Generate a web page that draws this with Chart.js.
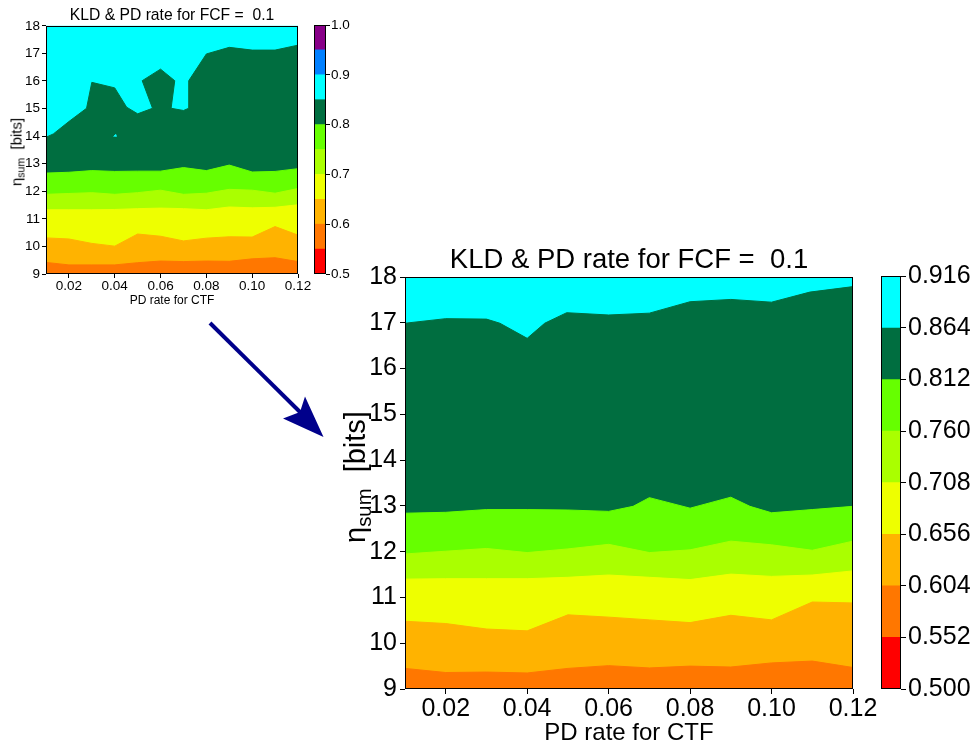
<!DOCTYPE html>
<html>
<head>
<meta charset="utf-8">
<script src="https://cdn.jsdelivr.net/npm/chart.js"></script>
<style>
  html, body { margin: 0; padding: 0; background: #fff; }
  body { width: 972px; height: 748px; position: relative; overflow: hidden;
         font-family: "Liberation Sans", Arial, sans-serif; }
  canvas { position: absolute; }
  .ylab { position: absolute; white-space: nowrap; color: #000; line-height: 1;
          transform: translate(-50%, -50%) rotate(-90deg); }
  .ylab sub { font-size: 70%; vertical-align: baseline; position: relative; top: 0.3em; }
  svg { position: absolute; left: 0; top: 0; }
</style>
</head>
<body>
<canvas id="small" width="344" height="310" style="left:0px;top:0px"></canvas>
<canvas id="smallBar" width="60" height="310" style="left:300px;top:0px"></canvas>
<canvas id="big" width="598" height="508" style="left:330px;top:240px"></canvas>
<canvas id="bigBar" width="102" height="508" style="left:870px;top:240px"></canvas>
<div class="ylab" style="left:16px;top:152px;font-size:15px">η<sub>sum</sub>&nbsp; [bits]</div>
<div class="ylab" style="left:355px;top:477px;font-size:29px">η<sub>sum</sub>&nbsp; [bits]</div>
<svg width="972" height="748">
  <line x1="210" y1="323" x2="301" y2="413" stroke="#00008b" stroke-width="4"/>
  <polygon points="323.5,437 283,418.5 300,412 305,396.5" fill="#00008b"/>
</svg>

<script>
// ---- axes ----
const xMin = 0.01, xMax = 0.12, yMin = 9, yMax = 18;
const xTicks = [0.02, 0.04, 0.06, 0.08, 0.10, 0.12];
const yTicks = [9, 10, 11, 12, 13, 14, 15, 16, 17, 18];

// ---- colours of the contour levels (low -> high) ----
const cRed = '#ff0000', cOrange = '#ff7700', cAmber = '#ffb300', cYellow = '#eeff00',
      cYellowGreen = '#aaff00', cGreen = '#66ff00', cDarkGreen = '#006e40',
      cCyan = '#00ffff', cBlue = '#0080ff', cPurple = '#880088';

// ---- small plot: level curves [x, eta] ----
const small060 = [[0.01,9.42],[0.02,9.33],[0.03,9.33],[0.04,9.33],[0.05,9.41],[0.06,9.47],
  [0.07,9.45],[0.08,9.47],[0.09,9.46],[0.10,9.55],[0.11,9.59],[0.12,9.45]];
const small065 = [[0.01,10.31],[0.02,10.27],[0.03,10.11],[0.04,10.01],[0.05,10.45],[0.06,10.37],
  [0.07,10.20],[0.08,10.30],[0.09,10.35],[0.10,10.34],[0.11,10.72],[0.12,10.41]];
const small070 = [[0.01,11.33],[0.02,11.33],[0.03,11.33],[0.04,11.34],[0.05,11.37],[0.06,11.39],
  [0.07,11.37],[0.08,11.33],[0.09,11.43],[0.10,11.40],[0.11,11.42],[0.12,11.51]];
const small075 = [[0.01,11.89],[0.02,11.92],[0.03,11.95],[0.04,11.89],[0.05,11.95],[0.06,12.04],
  [0.07,11.89],[0.08,11.93],[0.09,12.07],[0.10,12.04],[0.11,11.93],[0.12,12.10]];
const small080 = [[0.01,12.66],[0.02,12.69],[0.03,12.75],[0.04,12.72],[0.05,12.73],[0.06,12.73],
  [0.07,12.86],[0.08,12.75],[0.09,12.95],[0.10,12.70],[0.11,12.72],[0.12,12.82]];
const small085 = [[0.01,13.96],[0.0132,14.08],[0.02,14.53],[0.0277,15.01],[0.03,15.95],[0.04,15.75],
  [0.0452,15.05],[0.05,14.81],[0.0565,15.01],[0.052,16.01],[0.06,16.43],[0.0662,16.01],
  [0.0646,15.01],[0.07,14.93],[0.0723,15.01],[0.0723,16.01],[0.08,16.98],[0.09,17.22],
  [0.10,17.12],[0.11,17.12],[0.12,17.30]];
const smallSpeck = [[0.0395,13.99],[0.0405,14.06],[0.0407,13.98]];
const smallLevels = [0.5, 0.55, 0.6, 0.65, 0.7, 0.75, 0.8, 0.85, 0.9, 0.95, 1.0];
const smallLevelColors = [cRed, cOrange, cAmber, cYellow, cYellowGreen, cGreen, cDarkGreen, cCyan, cBlue, cPurple];
const smallBarTicks = [0.5, 0.6, 0.7, 0.8, 0.9, 1.0];

// ---- big plot: level curves [x, eta] ----
const big0604 = [[0.01,9.45],[0.02,9.36],[0.03,9.37],[0.04,9.35],[0.05,9.45],[0.06,9.51],
  [0.07,9.46],[0.08,9.50],[0.09,9.48],[0.10,9.57],[0.11,9.61],[0.12,9.47]];
const big0656 = [[0.01,10.48],[0.02,10.43],[0.03,10.31],[0.04,10.27],[0.05,10.62],[0.06,10.57],
  [0.07,10.51],[0.08,10.45],[0.09,10.61],[0.10,10.51],[0.11,10.90],[0.12,10.88]];
const big0708 = [[0.01,11.40],[0.02,11.41],[0.03,11.41],[0.04,11.41],[0.05,11.44],[0.06,11.49],
  [0.07,11.44],[0.08,11.39],[0.09,11.51],[0.10,11.46],[0.11,11.49],[0.12,11.58]];
const big0760 = [[0.01,11.95],[0.02,12.01],[0.03,12.07],[0.04,11.98],[0.05,12.06],[0.06,12.16],
  [0.07,11.98],[0.08,12.04],[0.09,12.23],[0.10,12.15],[0.11,12.03],[0.12,12.23]];
const big0812 = [[0.01,12.84],[0.02,12.86],[0.03,12.92],[0.04,12.92],[0.05,12.91],[0.06,12.88],
  [0.066,12.99],[0.07,13.18],[0.08,12.95],[0.09,13.19],[0.0947,12.99],[0.10,12.85],
  [0.11,12.92],[0.12,12.99]];
const big0864 = [[0.01,16.99],[0.02,17.09],[0.03,17.08],[0.0333,16.99],[0.04,16.66],[0.0443,16.99],
  [0.0497,17.22],[0.06,17.17],[0.07,17.21],[0.08,17.46],[0.09,17.51],[0.10,17.45],
  [0.1094,17.67],[0.12,17.79]];
const bigLevels = [0.500, 0.552, 0.604, 0.656, 0.708, 0.760, 0.812, 0.864, 0.916];
const bigLevelColors = [cRed, cOrange, cAmber, cYellow, cYellowGreen, cGreen, cDarkGreen, cCyan];

const topEdge = [[xMin, yMax], [xMax, yMax]];
const TITLE = 'KLD & PD rate for FCF =  0.1';
const XLABEL = 'PD rate for CTF';
const FONT = "'Liberation Sans', Arial, sans-serif";

Chart.defaults.font.family = FONT;
Chart.defaults.color = '#000';

// black box round the plotting area
const framePlugin = {
  id: 'frame',
  afterDraw(chart) {
    const a = chart.chartArea, ctx = chart.ctx;
    ctx.save();
    ctx.strokeStyle = '#000';
    ctx.lineWidth = 1;
    ctx.strokeRect(Math.round(a.left) + 0.5, Math.round(a.top) + 0.5,
                   Math.round(a.right - a.left) - 1, Math.round(a.bottom - a.top) - 1);
    ctx.restore();
  }
};

// region under a level curve, closed along the bottom of the plot
function regionBelow(edge) {
  const pts = edge.map(([x, y]) => ({x, y}));
  pts.push({x: xMax, y: yMin}, {x: xMin, y: yMin});
  return pts;
}

function shapeDataset(points, color) {
  return {
    data: points,
    fill: 'shape',
    backgroundColor: color,
    borderColor: color,
    borderWidth: 1,
    pointRadius: 0,
    tension: 0
  };
}

function contourChart(id, datasets, s) {
  new Chart(document.getElementById(id), {
    type: 'line',
    data: { datasets },
    options: {
      responsive: false,
      animation: false,
      devicePixelRatio: 1,
      layout: { padding: 0 },
      plugins: {
        legend: { display: false },
        tooltip: { enabled: false },
        title: {
          display: true, text: TITLE, color: '#000',
          font: { size: s.titleSize, weight: 'normal' },
          padding: { top: s.titleTop, bottom: s.titleBottom }
        }
      },
      scales: {
        x: {
          type: 'linear', min: xMin, max: xMax,
          afterBuildTicks: sc => { sc.ticks = xTicks.map(v => ({value: v})); },
          afterFit: sc => { sc.height = s.xHeight; },
          grid: { drawOnChartArea: false, drawTicks: true, tickLength: s.tick, color: '#000' },
          border: { display: false },
          ticks: { color: '#000', font: { size: s.tickSize }, padding: s.xPad,
                   maxRotation: 0, autoSkip: false, callback: v => v.toFixed(2) },
          title: { display: true, text: XLABEL, color: '#000',
                   font: { size: s.labelSize }, padding: { top: 0, bottom: s.xTitlePad } }
        },
        y: {
          type: 'linear', min: yMin, max: yMax,
          afterBuildTicks: sc => { sc.ticks = yTicks.map(v => ({value: v})); },
          afterFit: sc => { sc.width = s.yWidth; },
          grid: { drawOnChartArea: false, drawTicks: true, tickLength: s.tick, color: '#000' },
          border: { display: false },
          ticks: { color: '#000', font: { size: s.tickSize }, padding: s.yPad }
        },
        // empty right-hand axis so the title is centred over the plot
        spacer: {
          type: 'linear', position: 'right', min: yMin, max: yMax,
          afterFit: sc => { sc.width = s.spacer; },
          grid: { display: false }, border: { display: false }, ticks: { display: false }
        }
      }
    },
    plugins: [framePlugin]
  });
}

function colorBar(id, levels, colors, tickValues, digits, s) {
  const datasets = colors.map((c, i) => ({
    data: [[levels[i], levels[i + 1]]],
    backgroundColor: c,
    borderWidth: 0,
    grouped: false,
    barPercentage: 1,
    categoryPercentage: 1
  }));
  new Chart(document.getElementById(id), {
    type: 'bar',
    data: { labels: [''], datasets },
    options: {
      responsive: false,
      animation: false,
      devicePixelRatio: 1,
      layout: { padding: { left: s.left, top: s.top, right: 0, bottom: s.bottom } },
      plugins: { legend: { display: false }, tooltip: { enabled: false } },
      scales: {
        x: { display: false },
        y: {
          position: 'right',
          min: levels[0], max: levels[levels.length - 1],
          afterBuildTicks: sc => { sc.ticks = tickValues.map(v => ({value: v})); },
          afterFit: sc => { sc.width = s.width; },
          grid: { drawOnChartArea: false, drawTicks: true, tickLength: s.tick, color: '#000' },
          border: { display: false },
          ticks: { color: '#000', font: { size: s.tickSize }, padding: s.pad,
                   callback: v => v.toFixed(digits) }
        }
      }
    },
    plugins: [framePlugin]
  });
}

// small plot (index 0 is drawn on top)
contourChart('small', [
  shapeDataset(regionBelow(small060), cOrange),
  shapeDataset(regionBelow(small065), cAmber),
  shapeDataset(regionBelow(small070), cYellow),
  shapeDataset(regionBelow(small075), cYellowGreen),
  shapeDataset(regionBelow(small080), cGreen),
  shapeDataset(smallSpeck.map(([x, y]) => ({x, y})), cCyan),
  shapeDataset(regionBelow(small085), cDarkGreen),
  shapeDataset(regionBelow(topEdge), cCyan)
], { spacer: 46, titleSize: 15.7, titleTop: 6, titleBottom: 1, xHeight: 36, yWidth: 46,
     tick: 4, tickSize: 13.5, xPad: 0, yPad: 2, labelSize: 12, xTitlePad: 2 });

colorBar('smallBar', smallLevels, smallLevelColors, smallBarTicks, 1,
  { left: 14, top: 25, bottom: 36, width: 34, tick: 4, tickSize: 13.5, pad: 1 });

// big plot
contourChart('big', [
  shapeDataset(regionBelow(big0604), cOrange),
  shapeDataset(regionBelow(big0656), cAmber),
  shapeDataset(regionBelow(big0708), cYellow),
  shapeDataset(regionBelow(big0760), cYellowGreen),
  shapeDataset(regionBelow(big0812), cGreen),
  shapeDataset(regionBelow(big0864), cDarkGreen),
  shapeDataset(regionBelow(topEdge), cCyan)
], { spacer: 75, titleSize: 27.5, titleTop: 4, titleBottom: 0, xHeight: 59, yWidth: 75,
     tick: 5, tickSize: 25, xPad: 0, yPad: 3, labelSize: 24, xTitlePad: 0 });

colorBar('bigBar', bigLevels, bigLevelColors, bigLevels, 3,
  { left: 11, top: 36.4, bottom: 59, width: 71, tick: 5, tickSize: 25, pad: 2 });
</script>
</body>
</html>
